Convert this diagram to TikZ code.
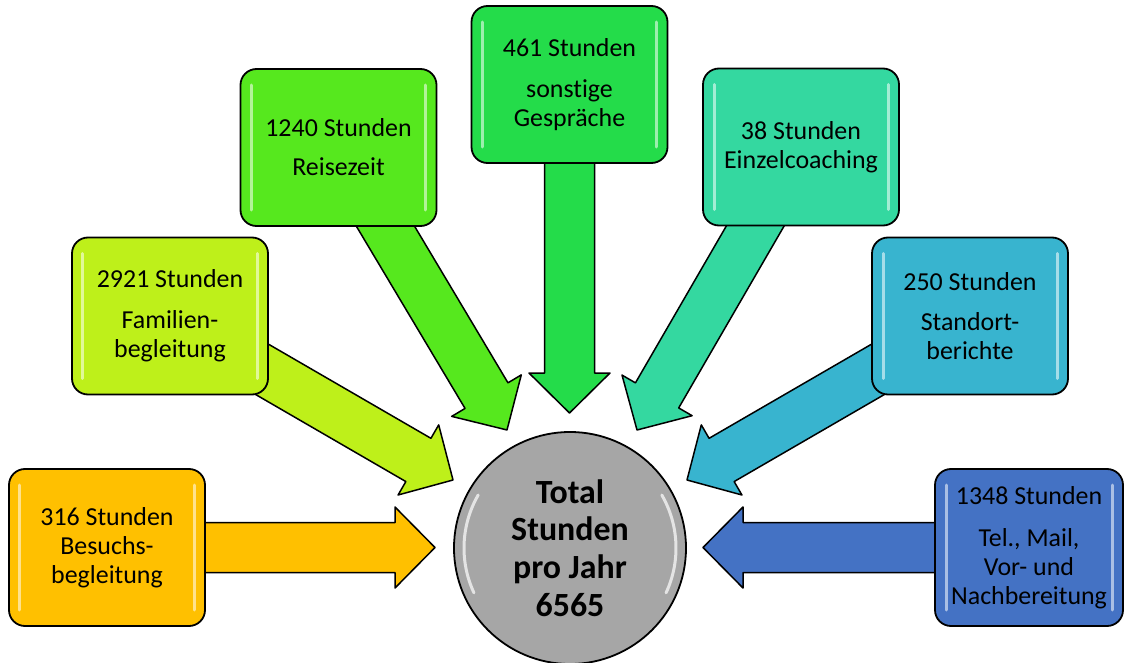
\documentclass[tikz,border=0pt]{standalone}
\usepackage{fontspec}
\setmainfont{Carlito}[Ligatures=NoCommon]
\usetikzlibrary{calc,backgrounds}
\definecolor{cOrange}{HTML}{FFC000}
\definecolor{cLime}{HTML}{BEF01A}
\definecolor{cGreenA}{HTML}{56E81E}
\definecolor{cGreenB}{HTML}{24DC4A}
\definecolor{cTeal}{HTML}{34D8A0}
\definecolor{cCyan}{HTML}{38B4CF}
\definecolor{cBlue}{HTML}{4472C4}
\definecolor{cGray}{HTML}{A6A6A6}
\tikzset{
  stdbox/.style={draw=black, line width=1.8bp, rounded corners=16bp,
    minimum width=196bp, minimum height=157bp, inner sep=0pt, align=center,
    font=\fontsize{26}{29}\selectfont, text=black,
    path picture={
      \draw[white, opacity=.55, line width=3bp, line cap=round, sharp corners]
        ([xshift=11bp,yshift=-16bp]path picture bounding box.north west) --
        ([xshift=11bp,yshift=16bp]path picture bounding box.south west);
      \draw[white, opacity=.55, line width=3bp, line cap=round, sharp corners]
        ([xshift=-11bp,yshift=-16bp]path picture bounding box.north east) --
        ([xshift=-11bp,yshift=16bp]path picture bounding box.south east);
    }},
  hub/.style={circle, draw=black, line width=1.8bp, fill=cGray, minimum size=232bp,
    inner sep=0pt, align=center, font=\bfseries\fontsize{34}{37.7}\selectfont,
    path picture={
      \draw[white, opacity=.7, line width=3bp, line cap=round]
        (path picture bounding box.center) ++(150:106bp) arc[start angle=150, end angle=205, radius=106bp];
      \draw[white, opacity=.7, line width=3bp, line cap=round]
        (path picture bounding box.center) ++(-25:106bp) arc[start angle=-25, end angle=30, radius=106bp];
    }},
  arrowbody/.style={draw=black, line width=1.5bp, line join=round},
}
\newcommand\blockarrow[3]{%
  \draw[arrowbody, fill=#3] let \p1=($(#2)-(#1)$), \n1={veclen(\x1,\y1)}, \n2={atan2(\y1,\x1)} in
    [shift={(#1)}, rotate=\n2]
    (0pt,-25bp) -- ({\n1-40bp},-25bp) -- ({\n1-40bp},-40.5bp) -- (\n1,0pt)
    -- ({\n1-40bp},40.5bp) -- ({\n1-40bp},25bp) -- (0pt,25bp) -- cycle;}
\begin{document}
\begin{tikzpicture}[x=1bp, y=-1bp]
\useasboundingbox (0,0) rectangle (1125,663);
\node[stdbox, fill=cOrange] (b1) at (107,547.5) {316 Stunden\\Besuchs-\\begleitung};
\node[stdbox, fill=cLime] (b2) at (170,316) {2921 Stunden\\[12bp]Familien-\\begleitung};
\node[stdbox, fill=cGreenA] (b3) at (338.5,147.5) {1240 Stunden\\[10bp]Reisezeit};
\node[stdbox, fill=cGreenB] (b4) at (569.5,84.5) {461 Stunden\\[12bp]sonstige\\Gespräche};
\node[stdbox, fill=cTeal] (b5) at (801,147) {38 Stunden\\Einzelcoaching};
\node[stdbox, fill=cCyan] (b6) at (970,316) {250 Stunden\\[12bp]Standort-\\berichte};
\node[stdbox, fill=cBlue, minimum width=188bp] (b7) at (1029,547.5) {1348 Stunden\\[13bp]Tel., Mail,\\Vor- und\\Nachbereitung};
\node[hub] (c) at (570,548) {Total\\Stunden\\pro Jahr\\6565};
\coordinate (t1) at (435,547.5);
\coordinate (t2) at (453,480);
\coordinate (t3) at (507,430);
\coordinate (t4) at (569.5,413);
\coordinate (t5) at (637,430);
\coordinate (t6) at (687,480);
\coordinate (t7) at (703,547.5);
\begin{scope}[on background layer]
\blockarrow{b1}{t1}{cOrange}
\blockarrow{b2}{t2}{cLime}
\blockarrow{b3}{t3}{cGreenA}
\blockarrow{b4}{t4}{cGreenB}
\blockarrow{b5}{t5}{cTeal}
\blockarrow{b6}{t6}{cCyan}
\blockarrow{b7}{t7}{cBlue}
\end{scope}
\end{tikzpicture}
\end{document}
